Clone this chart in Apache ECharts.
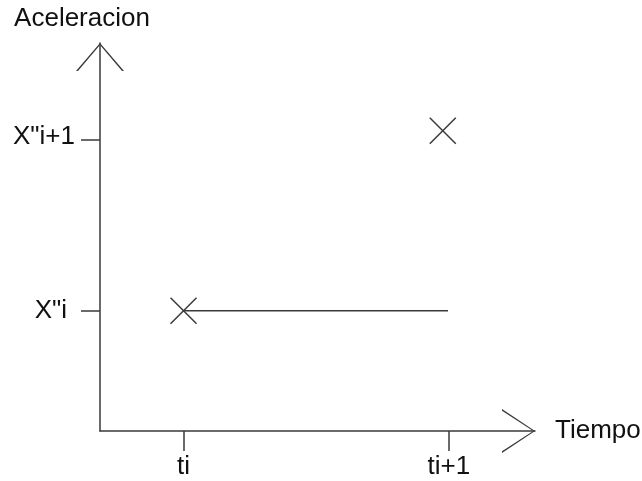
<!DOCTYPE html>
<html>
<head>
<meta charset="utf-8">
<script src="https://cdn.jsdelivr.net/npm/echarts@6/dist/echarts.min.js"></script>
<style>
  html, body { margin: 0; padding: 0; background: #fff; }
  #chart { width: 642px; height: 481px; }
</style>
</head>
<body>
<div id="chart"></div>
<script>
// Axis titles
const xTitle = 'Tiempo';
const yTitle = 'Aceleracion';

// Tick positions and their symbolic labels
const xTickValues = [1.92, 8.02];
const xTickLabels = ['ti', 'ti+1'];
const yTickValues = [3.10, 7.50];
const yTickLabels = ['X"i', 'X"i+1'];

// Marked points (crosses)
const pointX = [1.92, 7.88];
const pointY = [3.10, 7.74];

// Constant-acceleration segment
const segX = [1.92, 8.00];
const segY = [3.10, 3.10];

const ink = '#3a3a3a';
const textInk = '#111';
const font = "'Liberation Sans', Arial, sans-serif";
const fs = 26;

// Open "V" arrowheads, tip at the top of the path box
const yArrow = 'path://M0,28 L24,0 L48,28 L46.02,28 L24,1.98 L1.98,28 Z';
const xArrow = 'path://M0,33 L22,0 L44,33 L42.2,33 L22,1.8 L1.8,33 Z';

const chart = echarts.init(document.getElementById('chart'));

const labelMap = (vals, labs) => v => {
  for (let i = 0; i < vals.length; i++) {
    if (Math.abs(vals[i] - v) < 1e-6) return labs[i];
  }
  return '';
};
const xLab = labelMap(xTickValues, xTickLabels);
const yLab = labelMap(yTickValues, yTickLabels);

const richBase = { fontSize: fs, fontFamily: font, color: textInk };

chart.setOption({
  animation: false,
  backgroundColor: '#fff',
  grid: { left: 100, top: 43, right: 107, bottom: 50, containLabel: false, outerBoundsMode: 'none' },
  xAxis: {
    type: 'value', min: 0, max: 10,
    splitLine: { show: false },
    axisLine: {
      lineStyle: { color: ink, width: 1.5 },
      symbol: ['none', xArrow], symbolSize: [44, 33], symbolOffset: [0, -16.5]
    },
    axisTick: { show: true, length: 20, lineStyle: { color: ink, width: 1.5 }, customValues: xTickValues },
    axisLabel: {
      customValues: xTickValues, margin: 23,
      fontSize: fs, fontFamily: font, color: textInk,
      formatter: v => xLab(v)
    },
    name: xTitle, nameLocation: 'end', nameGap: 20,
    nameTextStyle: { fontSize: fs, fontFamily: font, color: textInk, padding: [0, 0, 21, 0] }
  },
  yAxis: {
    type: 'value', min: 0, max: 10,
    splitLine: { show: false },
    axisLine: {
      lineStyle: { color: ink, width: 1.5 },
      symbol: ['none', yArrow], symbolSize: [48, 28], symbolOffset: [0, -14]
    },
    axisTick: { show: true, length: 19, lineStyle: { color: ink, width: 1.5 }, customValues: yTickValues },
    axisLabel: {
      customValues: yTickValues, margin: 25,
      fontSize: fs, fontFamily: font, color: textInk,
      formatter: v => {
        const t = yLab(v);
        return v > 5 ? '{up|' + t + '}' : '{lo|' + t + '}';
      },
      rich: {
        up: Object.assign({ padding: [0, 0, 7, 0] }, richBase),
        lo: Object.assign({ padding: [0, 8, 0, 0] }, richBase)
      }
    },
    name: yTitle, nameLocation: 'end', nameGap: 11,
    nameTextStyle: { fontSize: fs, fontFamily: font, color: textInk, padding: [0, 36, 0, 0] }
  },
  series: [
    {
      type: 'line',
      data: segX.map((x, i) => [x, segY[i]]),
      showSymbol: false,
      lineStyle: { color: ink, width: 1.5 },
      silent: true
    },
    {
      type: 'custom',
      data: pointX.map((x, i) => [x, pointY[i]]),
      renderItem: (params, api) => {
        const p = api.coord([api.value(0), api.value(1)]);
        const s = 13;
        const st = { stroke: ink, lineWidth: 1.5 };
        return {
          type: 'group',
          children: [
            { type: 'line', shape: { x1: p[0] - s, y1: p[1] - s, x2: p[0] + s, y2: p[1] + s }, style: st },
            { type: 'line', shape: { x1: p[0] - s, y1: p[1] + s, x2: p[0] + s, y2: p[1] - s }, style: st }
          ]
        };
      },
      silent: true
    }
  ]
});
</script>
</body>
</html>
